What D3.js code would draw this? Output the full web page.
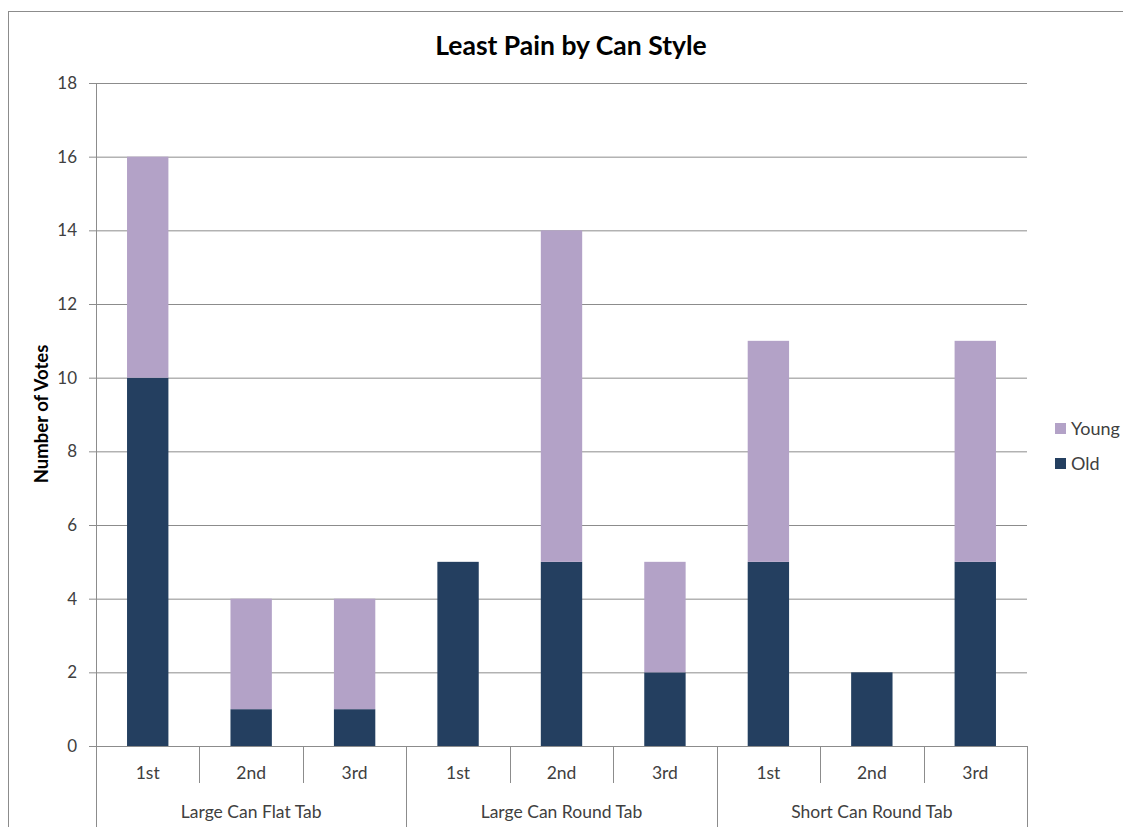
<!DOCTYPE html>
<html lang="en-US">
<head>
<meta charset="UTF-8">
<title>Least Pain by Can Style</title>
<script src="https://d3js.org/d3.v7.min.js"></script>
<style>
  body { margin: 0; background: #fff; }
  text { font-family: Lato, "Open Sans", sans-serif; fill: #404040; }
  .grid line { stroke: #8c8c8c; stroke-width: 1px; }
</style>
</head>
<body>
<script>

// data
var groups = ["Large Can Flat Tab", "Large Can Round Tab", "Short Can Round Tab"];
var ranks = ["1st", "2nd", "3rd"];
var oldVotes = [10, 1, 1, 5, 5, 2, 5, 2, 5];
var youngVotes = [6, 3, 3, 0, 9, 3, 6, 0, 6];
var seriesNames = ["Old", "Young"];
var colors = {Old: "#243f60", Young: "#b3a2c7"};
var yTicks = [0, 2, 4, 6, 8, 10, 12, 14, 16, 18];

var W = 1123, H = 827;
var margin = {top: 83, left: 96, right: 96, bottom: 81};
var plotW = 1027 - margin.left, plotH = 746 - margin.top;

var rows = [];
groups.forEach(function(g, gi) {
  ranks.forEach(function(r, ri) {
    var i = gi * 3 + ri;
    rows.push({key: i, group: g, rank: r, Old: oldVotes[i], Young: youngVotes[i]});
  });
});

var svg = d3.select("body").append("svg")
    .attr("width", W).attr("height", H);

// chart border
svg.append("rect")
    .attr("x", 8.5).attr("y", 11.5)
    .attr("width", W + 20).attr("height", H + 20)
    .attr("fill", "none").attr("stroke", "#8c8c8c");

svg.append("text")
    .attr("x", 571).attr("y", 55)
    .attr("text-anchor", "middle")
    .style("font-size", "26.5px").style("font-weight", "bold")
    .style("fill", "#000")
    .text("Least Pain by Can Style");

var g = svg.append("g")
    .attr("transform", "translate(" + margin.left + "," + margin.top + ")");

var x = d3.scaleBand()
    .domain(rows.map(function(d) { return d.key; }))
    .range([0, plotW])
    .paddingInner(0.6).paddingOuter(0.3);

var y = d3.scaleLinear().domain([0, 18]).range([plotH, 0]);

// gridlines + y axis
var yAxis = g.append("g").attr("class", "grid")
    .call(d3.axisLeft(y).tickValues(yTicks).tickSize(-plotW - 7).tickFormat(d3.format("d")));
yAxis.select(".domain").remove();
yAxis.selectAll(".tick line").attr("x1", -7).attr("x2", plotW);
yAxis.selectAll(".tick text")
    .attr("x", -19)
    .style("font-size", "17px").style("font-family", "Lato, 'Open Sans', sans-serif")
    .style("fill", "#404040");

// y axis line
g.append("line")
    .attr("x1", 0.5).attr("x2", 0.5).attr("y1", 0).attr("y2", H)
    .attr("stroke", "#8c8c8c");

// stacked bars
var stack = d3.stack().keys(seriesNames);
var layers = stack(rows);

g.selectAll(".layer")
  .data(layers)
  .enter().append("g")
    .attr("class", "layer")
    .attr("fill", function(d) { return colors[d.key]; })
  .selectAll("rect")
  .data(function(d) { return d; })
  .enter().append("rect")
    .attr("x", function(d) { return x(d.data.key); })
    .attr("width", x.bandwidth())
    .attr("y", function(d) { return y(d[1]); })
    .attr("height", function(d) { return y(d[0]) - y(d[1]); });

// category axis: cell dividers
var cat = d3.scaleBand().domain(rows.map(function(d) { return d.key; })).range([0, plotW]);

g.selectAll(".div-inner")
  .data(rows.slice(1).filter(function(d) { return d.key % 3 !== 0; }))
  .enter().append("line")
    .attr("x1", function(d) { return Math.round(cat(d.key)) + 0.5; })
    .attr("x2", function(d) { return Math.round(cat(d.key)) + 0.5; })
    .attr("y1", plotH).attr("y2", plotH + 37)
    .attr("stroke", "#8c8c8c");

g.selectAll(".div-group")
  .data(d3.range(1, groups.length + 1))
  .enter().append("line")
    .attr("x1", function(d) { return Math.round(d * 3 * cat.step()) + 0.5; })
    .attr("x2", function(d) { return Math.round(d * 3 * cat.step()) + 0.5; })
    .attr("y1", plotH).attr("y2", H)
    .attr("stroke", "#8c8c8c");

g.selectAll(".rank-label")
  .data(rows)
  .enter().append("text")
    .attr("x", function(d) { return cat(d.key) + cat.bandwidth() / 2; })
    .attr("y", plotH + 33)
    .attr("text-anchor", "middle")
    .style("font-size", "17.5px")
    .text(function(d) { return d.rank; });

g.selectAll(".group-label")
  .data(groups)
  .enter().append("text")
    .attr("x", function(d, i) { return (i * 3 + 1.5) * cat.step(); })
    .attr("y", plotH + 72)
    .attr("text-anchor", "middle")
    .style("font-size", "17.5px")
    .text(function(d) { return d; });

// y title
svg.append("text")
    .attr("transform", "translate(48,414) rotate(-90)")
    .attr("text-anchor", "middle")
    .style("font-size", "18.5px").style("font-weight", "bold")
    .style("fill", "#000")
    .text("Number of Votes");

// legend
var legend = svg.append("g").attr("transform", "translate(1055,423)");
var legendItems = ["Young", "Old"];
var li = legend.selectAll("g").data(legendItems).enter().append("g")
    .attr("transform", function(d, i) { return "translate(0," + i * 35 + ")"; });
li.append("rect").attr("width", 11).attr("height", 11)
    .attr("fill", function(d) { return colors[d]; });
li.append("text").attr("x", 16).attr("y", 12)
    .style("font-size", "18px")
    .text(function(d) { return d; });

</script>
</body>
</html>
